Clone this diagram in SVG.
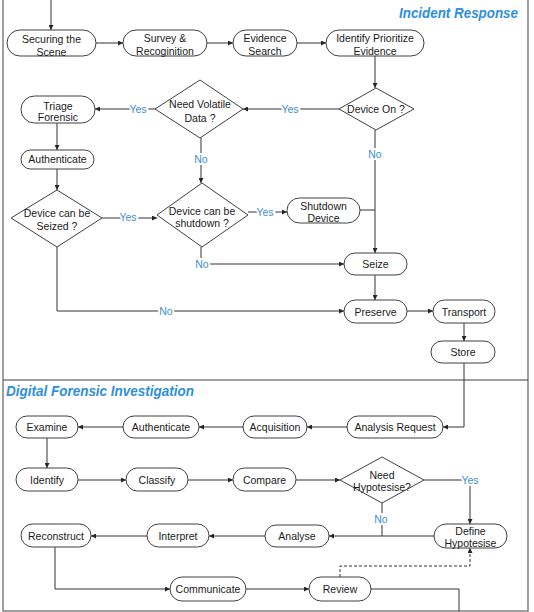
<svg xmlns="http://www.w3.org/2000/svg" width="534" height="612" viewBox="0 0 534 612">
<defs>
<marker id="ah" viewBox="0 0 10 10" refX="10" refY="5" markerWidth="5" markerHeight="5" orient="auto" markerUnits="userSpaceOnUse">
<path d="M0,0 L10,5 L0,10 z" fill="#262626"/>
</marker>
<style>
.n rect, .n path{fill:#fff;stroke:#404040;stroke-width:1}
.t{font-family:"Liberation Sans",Arial,sans-serif;font-size:10.5px;fill:#1a1a1a;text-anchor:middle}
.c path{fill:none;stroke:#333;stroke-width:1}
.c .a{marker-end:url(#ah)}
.c .d{stroke-dasharray:3,2}
.l{font-family:"Liberation Sans",Arial,sans-serif;font-size:10.5px;fill:#3d8fce;text-anchor:middle;paint-order:stroke;stroke:#fff;stroke-width:4px}
.title{font-family:"Liberation Sans",Arial,sans-serif;font-size:14px;font-weight:bold;font-style:italic;fill:#2e8fdb}
.frame{fill:none;stroke:#808080;stroke-width:1.5}
</style>
</defs>
<rect width="534" height="612" fill="#fff"/>
<g id="frame">
<path class="frame" d="M3,0 V611 H528 V0"/>
<path d="M3,380 H528" stroke="#404040" stroke-width="1" fill="none"/>
<text class="title" x="399" y="18" textLength="119" lengthAdjust="spacingAndGlyphs">Incident Response</text>
<text class="title" x="6" y="396" textLength="188" lengthAdjust="spacingAndGlyphs">Digital Forensic Investigation</text>
</g>
<g id="connectors" class="c">
<path class="a" d="M51,0 V30"/>
<path class="a" d="M96,43 H123"/>
<path class="a" d="M207,43 H233"/>
<path class="a" d="M297,43 H326"/>
<path class="a" d="M375,56 V88"/>
<path class="a" d="M339,109 H243"/>
<path class="a" d="M155,109 H95"/>
<path class="a" d="M57,123 V150"/>
<path class="a" d="M57,169 V190"/>
<path class="a" d="M102,218 H157"/>
<path class="a" d="M201,138 V183"/>
<path class="a" d="M248,212 H287"/>
<path class="a" d="M375,130 V253"/>
<path d="M360,210 H375"/>
<path class="a" d="M201,247 V264 H344"/>
<path class="a" d="M375,275 V300"/>
<path class="a" d="M57,247 V311 H344"/>
<path class="a" d="M407,311 H433"/>
<path class="a" d="M464,323 V341"/>
<path class="a" d="M464,363 V427 H443"/>
<path class="a" d="M347,427 H307"/>
<path class="a" d="M243,427 H199"/>
<path class="a" d="M123,427 H78"/>
<path class="a" d="M47,438 V468"/>
<path class="a" d="M78,480 H126"/>
<path class="a" d="M188,480 H233"/>
<path class="a" d="M296,480 H340"/>
<path class="a" d="M424,480 H470 V524"/>
<path class="a" d="M434,536 H329"/>
<path d="M382,503 V536"/>
<path class="a" d="M265,536 H209"/>
<path class="a" d="M147,536 H91"/>
<path class="a" d="M55,547 V589 H170"/>
<path class="a" d="M246,589 H309"/>
<path d="M371,589 H459 V611"/>
<path class="a d" d="M340,577 V566 H470 V548"/>
<text class="l" x="290" y="113">Yes</text>
<text class="l" x="138" y="113">Yes</text>
<text class="l" x="128" y="221">Yes</text>
<text class="l" x="201" y="163">No</text>
<text class="l" x="265" y="216">Yes</text>
<text class="l" x="375" y="158">No</text>
<text class="l" x="202" y="268">No</text>
<text class="l" x="166" y="315">No</text>
<text class="l" x="470" y="484">Yes</text>
<text class="l" x="381" y="523">No</text>
</g>
<g id="securing" class="n"><rect x="7" y="30" width="89" height="26" rx="13"/><text class="t" x="51.5" y="42.5">Securing the</text><text class="t" x="51.5" y="55.5">Scene</text></g>
<g id="survey" class="n"><rect x="123" y="30" width="84" height="26" rx="13"/><text class="t" x="165" y="41.5">Survey &amp;</text><text class="t" x="165" y="55">Recoginition</text></g>
<g id="evidence-search" class="n"><rect x="233" y="30" width="64" height="26" rx="13"/><text class="t" x="265" y="41.5">Evidence</text><text class="t" x="265" y="55">Search</text></g>
<g id="identify-prioritize" class="n"><rect x="326" y="30" width="98" height="26" rx="13"/><text class="t" x="375" y="41.5">Identify Prioritize</text><text class="t" x="375" y="55">Evidence</text></g>
<g id="device-on" class="n"><path d="M376,88 L414,109 L376,130 L339,109 z"/><text class="t" x="376" y="113">Device On ?</text></g>
<g id="need-volatile" class="n"><path d="M200,80 L243,109 L200,138 L155,109 z"/><text class="t" x="200" y="107.5">Need Volatile</text><text class="t" x="200" y="121.5">Data ?</text></g>
<g id="triage" class="n"><rect x="21" y="96" width="74" height="27" rx="13.5"/><text class="t" x="58" y="109.5">Triage</text><text class="t" x="58" y="121">Forensic</text></g>
<g id="authenticate-ir" class="n"><rect x="21" y="150" width="73" height="19" rx="9.5"/><text class="t" x="57.5" y="163">Authenticate</text></g>
<g id="device-seized" class="n"><path d="M57,190 L102,218 L57,247 L11,218 z"/><text class="t" x="57" y="216.5">Device can be</text><text class="t" x="57" y="229.5">Seized ?</text></g>
<g id="device-shutdown" class="n"><path d="M202,183 L248,215 L202,247 L157,215 z"/><text class="t" x="202" y="214.5">Device can be</text><text class="t" x="202" y="226.5">shutdown ?</text></g>
<g id="shutdown-device" class="n"><rect x="287" y="198" width="73" height="25" rx="12.5"/><text class="t" x="323.5" y="209.5">Shutdown</text><text class="t" x="323.5" y="222">Device</text></g>
<g id="seize" class="n"><rect x="344" y="253" width="63" height="22" rx="11"/><text class="t" x="375.5" y="268">Seize</text></g>
<g id="preserve" class="n"><rect x="344" y="300" width="63" height="23" rx="11.5"/><text class="t" x="375.5" y="315.5">Preserve</text></g>
<g id="transport" class="n"><rect x="433" y="300" width="62" height="23" rx="11.5"/><text class="t" x="464" y="315.5">Transport</text></g>
<g id="store" class="n"><rect x="431" y="341" width="64" height="22" rx="11"/><text class="t" x="463" y="356">Store</text></g>
<g id="analysis-request" class="n"><rect x="347" y="416" width="96" height="22" rx="11"/><text class="t" x="395" y="431">Analysis Request</text></g>
<g id="acquisition" class="n"><rect x="243" y="416" width="64" height="22" rx="11"/><text class="t" x="275" y="431">Acquisition</text></g>
<g id="authenticate-dfi" class="n"><rect x="123" y="416" width="76" height="22" rx="11"/><text class="t" x="161" y="431">Authenticate</text></g>
<g id="examine" class="n"><rect x="16" y="416" width="62" height="22" rx="11"/><text class="t" x="47" y="431">Examine</text></g>
<g id="identify" class="n"><rect x="16" y="468" width="62" height="23" rx="11.5"/><text class="t" x="47" y="483.5">Identify</text></g>
<g id="classify" class="n"><rect x="126" y="468" width="62" height="23" rx="11.5"/><text class="t" x="157" y="483.5">Classify</text></g>
<g id="compare" class="n"><rect x="233" y="468" width="63" height="23" rx="11.5"/><text class="t" x="264.5" y="483.5">Compare</text></g>
<g id="need-hypotesise" class="n"><path d="M382,457 L424,480 L382,503 L340,480 z"/><text class="t" x="382" y="478.5">Need</text><text class="t" x="382" y="490.5">Hypotesise?</text></g>
<g id="define-hypotesise" class="n"><rect x="434" y="524" width="73" height="24" rx="12"/><text class="t" x="470.5" y="534.5">Define</text><text class="t" x="470.5" y="547">Hypotesise</text></g>
<g id="analyse" class="n"><rect x="265" y="525" width="64" height="22" rx="11"/><text class="t" x="297" y="540">Analyse</text></g>
<g id="interpret" class="n"><rect x="147" y="524" width="62" height="23" rx="11.5"/><text class="t" x="178" y="539.5">Interpret</text></g>
<g id="reconstruct" class="n"><rect x="21" y="524" width="70" height="23" rx="11.5"/><text class="t" x="56" y="539.5">Reconstruct</text></g>
<g id="communicate" class="n"><rect x="170" y="577" width="76" height="24" rx="12"/><text class="t" x="208" y="592.5">Communicate</text></g>
<g id="review" class="n"><rect x="309" y="577" width="62" height="24" rx="12"/><text class="t" x="340" y="592.5">Review</text></g>
</svg>
